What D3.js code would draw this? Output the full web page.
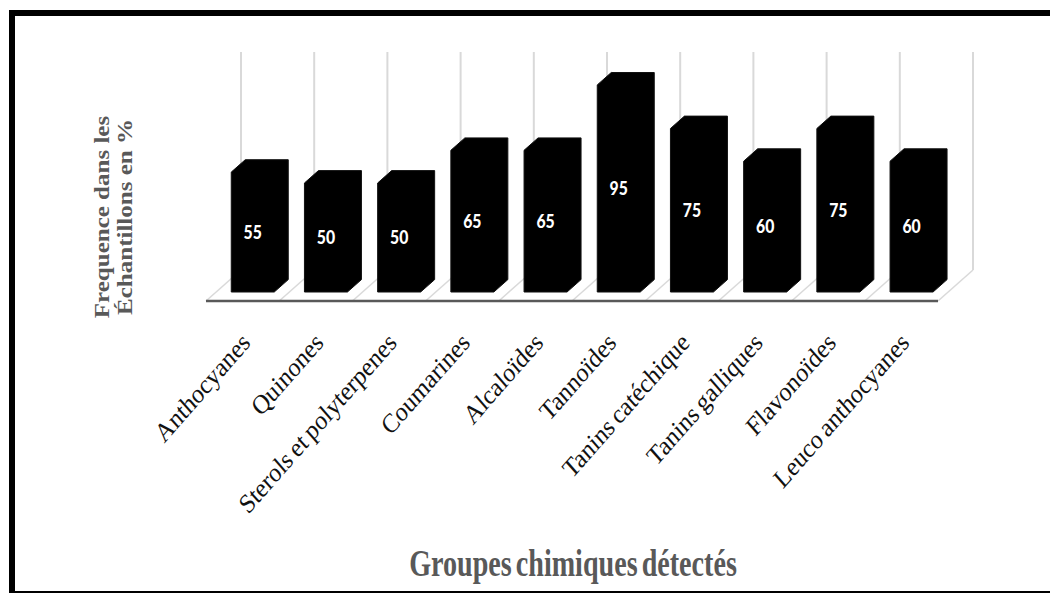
<html>
<head>
    <meta charset="utf-8">
    <style>
        body { margin: 0; background: #fff; }
    </style>
</head>
<body>
<script src="https://cdn.jsdelivr.net/npm/d3@7"></script>
<script>
    var categories = ["Anthocyanes", "Quinones", "Sterols et polyterpenes", "Coumarines", "Alcaloïdes",
                      "Tannoïdes", "Tanins catéchique", "Tanins galliques", "Flavonoïdes", "Leuco anthocyanes"];
    var values = [55, 50, 50, 65, 65, 95, 75, 60, 75, 60];
    var yTicks = [0, 10, 20, 30, 40, 50, 60, 70, 80, 90, 100];
    var xTitle = "Groupes chimiques détectés";
    var yTitle = ["Frequence dans les", "Échantillons en %"];

    var width = 1050, height = 593;
    var squish = 0.876;            // the picture is a little narrower than tall
    var floorFront = 301;           // y of the front edge of the floor
    var depthX = 35, depthY = 31;   // floor depth offset
    var barD0 = 0.29, barD1 = 0.69; // bar depth inside the floor
    var barW = 43;

    var svg = d3.select("body")
                .append("svg")
                .attr("width", width)
                .attr("height", height);

    // frame
    svg.append("rect")
       .attr("x", 12).attr("y", 13)
       .attr("width", width + 20).attr("height", 581)
       .attr("fill", "none")
       .attr("stroke", "#000")
       .attr("stroke-width", 6);

    var x = d3.scaleBand()
              .domain(categories)
              .range([206, 938])
              .padding(0);

    var y = d3.scaleLinear()
              .domain([0, 100])
              .range([0, 218]);

    var backY = floorFront - depthY;

    // back wall gridlines (one per category boundary)
    var bounds = categories.map(c => x(c)).concat([x.range()[1]]);
    svg.selectAll("line.grid")
       .data(bounds)
       .join("line")
       .attr("class", "grid")
       .attr("x1", d => d + depthX)
       .attr("x2", d => d + depthX)
       .attr("y1", backY)
       .attr("y2", backY - y(d3.max(yTicks)))
       .attr("stroke", "#d9d9d9")
       .attr("stroke-width", 2);

    // floor diagonals
    svg.selectAll("line.floor")
       .data(bounds)
       .join("line")
       .attr("class", "floor")
       .attr("x1", d => d)
       .attr("y1", floorFront)
       .attr("x2", d => d + depthX)
       .attr("y2", backY)
       .attr("stroke", "#d9d9d9")
       .attr("stroke-width", 1.5);

    // front edge
    svg.append("line")
       .attr("x1", x.range()[0]).attr("x2", x.range()[1])
       .attr("y1", floorFront).attr("y2", floorFront)
       .attr("stroke", "#595959")
       .attr("stroke-width", 2.5);

    // bars as extruded boxes (silhouette)
    function barPath(c, v) {
        var left = x(c) + x.bandwidth() / 2 - barW / 2;
        var fx = left + depthX * barD0, fy = floorFront - depthY * barD0;
        var dx = depthX * (barD1 - barD0), dy = depthY * (barD1 - barD0);
        var h = y(v);
        return d3.line()([
            [fx, fy], [fx, fy - h], [fx + dx, fy - h - dy],
            [fx + barW + dx, fy - h - dy], [fx + barW + dx, fy - dy], [fx + barW, fy]
        ]) + "Z";
    }

    var gb = svg.append("g");
    gb.selectAll("path")
      .data(categories)
      .join("path")
      .attr("d", (c, i) => barPath(c, values[i]))
      .attr("fill", "#000")
      .attr("stroke", "#111")
      .attr("stroke-width", 1)
      .attr("stroke-linejoin", "round");

    gb.selectAll("text")
      .data(categories)
      .join("text")
      .attr("transform", (c, i) => {
          var cx = x(c) + x.bandwidth() / 2 + depthX * barD0;
          var cy = floorFront - depthY * barD0 - y(values[i]) / 2;
          return "translate(" + cx + "," + cy + ") scale(" + squish + ",1)";
      })
      .attr("text-anchor", "middle")
      .attr("dy", "0.36em")
      .attr("font-family", "Lato, 'Open Sans', sans-serif")
      .attr("font-weight", "900")
      .attr("font-size", 18)
      .attr("fill", "#fff")
      .text((c, i) => values[i]);

    // category labels
    svg.append("g")
       .selectAll("text")
       .data(categories)
       .join("text")
       .attr("transform", c => "translate(" + (x(c) + x.bandwidth() / 2 + 9) + ",344) scale(" + squish + ",1) rotate(-45)")
       .attr("text-anchor", "end")
       .attr("font-family", "'Liberation Serif', 'Times New Roman', serif")
       .attr("font-size", 27)
       .attr("word-spacing", -2)
       .attr("fill", "#111")
       .text(c => c);

    // y title
    svg.append("g")
       .selectAll("text")
       .data(yTitle)
       .join("text")
       .attr("transform", (d, i) => "translate(" + (109 + i * 23) + ",217) scale(" + squish + ",1) rotate(-90)")
       .attr("text-anchor", "middle")
       .attr("font-family", "'Liberation Serif', 'Times New Roman', serif")
       .attr("font-weight", "bold")
       .attr("font-size", 25)
       .attr("fill", "#595959")
       .text(d => d);

    // x title
    svg.append("text")
       .attr("transform", "translate(573,576) scale(0.74,1)")
       .attr("text-anchor", "middle")
       .attr("font-family", "'Liberation Serif', 'Times New Roman', serif")
       .attr("font-weight", "bold")
       .attr("font-size", 38)
       .attr("word-spacing", -4)
       .attr("fill", "#595959")
       .text(xTitle);
</script>
</body>
</html>
